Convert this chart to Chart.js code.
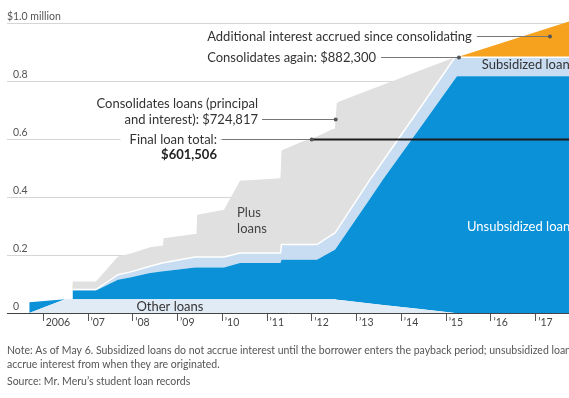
<!DOCTYPE html>
<html><head><meta charset="utf-8">
<script src="https://cdn.jsdelivr.net/npm/chart.js@4.4.1/dist/chart.umd.min.js"></script>
<style>html,body{margin:0;padding:0;background:#fff;}canvas{display:block;}</style>
</head><body>
<canvas id="c" width="569" height="398"></canvas>
<script>
// ---- data (values in $ millions, dates in decimal years) ----
const dates = [2005.687, 2006.485, 2006.648, 2006.659, 2007.177, 2007.669, 2007.937, 2008.384, 2008.674, 2008.688,
  2009.389, 2009.423, 2009.438, 2010.037, 2010.395, 2011.299, 2011.322, 2011.735, 2011.958, 2012.115,
  2012.443, 2012.517, 2012.557, 2012.629, 2013.299, 2013.589, 2014.416, 2015.198, 2015.243, 2017.745];
const otherLoans = [0, .047, .047, .047, .047, .047, .047, .047, .047, .047,
  .047, .047, .047, .047, .047, .047, .047, .047, .047, .047,
  .047, .047, .046, .045, .033, .028, .014, 0, 0, 0];
const unsubsidizedLoans = [.037, 0, 0, .031, .031, .068, .075, .091, .097, .097,
  .110, .110, .110, .110, .125, .125, .137, .137, .137, .137,
  .165, .171, .181, .198, .361, .432, .624, .807, .816, .816];
const subsidizedLoans = [0, 0, 0, .003, .003, .017, .019, .023, .029, .029,
  .036, .036, .036, .036, .035, .035, .052, .052, .052, .052,
  .057, .058, .058, .059, .066, .064, .069, .075, .066, .066];
const plusLoans = [0, 0, 0, .028, .028, .063, .063, .066, .060, .085,
  .079, .079, .146, .163, .249, .258, .324, .352, .365, .373,
  .364, .360, .439, .428, .310, .263, .129, 0, 0, 0];
const addedInterest = [0, 0, 0, 0, 0, 0, 0, 0, 0, 0,
  0, 0, 0, 0, 0, 0, 0, 0, 0, 0,
  0, 0, 0, 0, 0, 0, 0, 0, 0, .123];

const yTicks = [0, 0.2, 0.4, 0.6, 0.8, 1.0];
const yTickLabels = ['0', '0.2', '0.4', '0.6', '0.8', '$1.0 million'];
const xTicks = [2006, 2007, 2008, 2009, 2010, 2011, 2012, 2013, 2014, 2015, 2016, 2017];
const xTickLabels = ['2006', '\u201907', '\u201908', '\u201909', '\u201910', '\u201911', '\u201912', '\u201913', '\u201914', '\u201915', '\u201916', '\u201917'];

// annotation anchors
const finalTotal = 0.601506, finalDate = 2011.996;
const firstConsol = 0.670, firstConsolDate = 2012.533;
const secondConsol = 0.8823, secondConsolDate = 2015.287;
const interestMark = 0.956, interestDate = 2017.32;

const xMin = 2005.19, xMax = 2017.745;
const FONT = 'Lato, "Open Sans", sans-serif';

function pts(arr) { return dates.map((d, i) => ({x: d, y: arr[i]})); }

const annot = {
  id: 'annot',
  afterDraw(chart) {
    const {ctx, scales: {x, y}} = chart;
    const X = v => x.getPixelForValue(v), Y = v => y.getPixelForValue(v);
    ctx.save();
    // y tick labels (with hanging $)
    ctx.font = '10.5px ' + FONT; ctx.fillStyle = '#555'; ctx.textBaseline = 'alphabetic';
    yTicks.forEach((v, i) => {
      const py = Y(v) - 3;
      const lab = yTickLabels[i];
      if (lab[0] === '$') {
        ctx.textAlign = 'right'; ctx.fillText('$', 13, py);
        ctx.textAlign = 'left'; ctx.fillText(lab.slice(1), 13, py);
      } else { ctx.textAlign = 'left'; ctx.fillText(lab, 13, py); }
    });
    const line = (x1, y1, x2, y2, c, w) => { ctx.strokeStyle = c; ctx.lineWidth = w; ctx.beginPath(); ctx.moveTo(x1, y1); ctx.lineTo(x2, y2); ctx.stroke(); };
    const dot = (px, py) => { ctx.fillStyle = '#555'; ctx.beginPath(); ctx.arc(px, py, 2, 0, Math.PI * 2); ctx.fill(); };
    ctx.textBaseline = 'middle';
    ctx.font = '13px ' + FONT;

    // Final loan total
    const fy = Math.round(Y(finalTotal)) + 0.5;
    const fRight = X(2009.88);
    ctx.textAlign = 'right';
    const fw = ctx.measureText('Final loan total:').width;
    ctx.fillStyle = '#fff'; ctx.fillRect(fRight - fw - 9, fy - 7, fw + 12, 14);
    ctx.fillStyle = '#333'; ctx.fillText('Final loan total:', fRight, fy);
    ctx.font = 'bold 13px ' + FONT; ctx.fillStyle = '#222';
    ctx.fillText('$601,506', fRight, fy + 15);
    ctx.font = '13px ' + FONT;
    line(fRight + 5, fy, X(finalDate), fy, '#777', 1);
    line(X(finalDate), fy, chart.chartArea.right, fy, '#1c1c1c', 2);
    dot(X(finalDate), fy);

    // Consolidates loans
    const cy = Math.round(Y(firstConsol)) + 0.5;
    const cRight = X(2010.797);
    ctx.fillStyle = '#333'; ctx.textAlign = 'right';
    ctx.fillText('Consolidates loans (principal', cRight, cy - 16);
    ctx.fillText('and interest): $724,817', cRight, cy);
    line(cRight + 4, cy, X(firstConsolDate), cy, '#777', 1);
    dot(X(firstConsolDate), cy);

    // Consolidates again
    const ay = Math.round(Y(secondConsol)) + 0.5;
    const left = X(2009.662);
    ctx.fillStyle = '#333'; ctx.textAlign = 'left';
    ctx.fillText('Consolidates again: $882,300', left, ay);
    let w = ctx.measureText('Consolidates again: $882,300').width;
    line(left + w + 5, ay, X(secondConsolDate), ay, '#777', 1);
    dot(X(secondConsolDate), ay);

    // Additional interest
    const iy = Math.round(Y(interestMark)) + 0.5;
    ctx.fillStyle = '#333';
    ctx.fillText('Additional interest accrued since consolidating', left, iy);
    w = ctx.measureText('Additional interest accrued since consolidating').width;
    line(left + w + 5, iy, X(interestDate), iy, '#777', 1);
    dot(X(interestDate), iy);

    // area labels
    ctx.fillStyle = '#444'; ctx.textAlign = 'left';
    ctx.fillText('Plus', X(2010.33), 212.5);
    ctx.fillText('loans', X(2010.33), 228.5);
    ctx.fillStyle = '#333'; ctx.textAlign = 'center';
    ctx.fillText('Other loans', X(2008.83), 306.5);
    ctx.textAlign = 'left';
    ctx.fillStyle = '#fff';
    ctx.fillText('Unsubsidized loans', X(2015.465), 226.5);
    ctx.fillStyle = '#333';
    ctx.fillText('Subsidized loans', X(2015.795), 65);

    // notes
    ctx.font = '10.5px ' + FONT; ctx.fillStyle = '#555';
    ctx.fillText('Note: As of May 6. Subsidized loans do not accrue interest until the borrower enters the payback period; unsubsidized loans', 7, 350.5);
    ctx.fillText('accrue interest from when they are originated.', 7, 364.5);
    ctx.fillText('Source: Mr. Meru\u2019s student loan records', 7, 382);
    ctx.restore();
  }
};

const base = {pointRadius: 0, pointHoverRadius: 0, borderWidth: 0, tension: 0, stack: 'loans'};
new Chart(document.getElementById('c'), {
  type: 'line',
  data: {
    datasets: [
      Object.assign({}, base, {label: 'Other loans', data: pts(otherLoans), backgroundColor: '#e1ebf6', borderColor: '#e1ebf6', fill: 'origin'}),
      Object.assign({}, base, {label: 'Unsubsidized loans', data: pts(unsubsidizedLoans), backgroundColor: '#0b91d7', borderColor: '#0b91d7', fill: '-1'}),
      Object.assign({}, base, {label: 'Subsidized loans', data: pts(subsidizedLoans), backgroundColor: '#c8ddf2', borderColor: '#ffffff', borderWidth: 1.5, fill: '-1'}),
      Object.assign({}, base, {label: 'Plus loans', data: pts(plusLoans), backgroundColor: '#e0e0e0', borderColor: '#e0e0e0', fill: '-1'}),
      Object.assign({}, base, {label: 'Additional interest', data: pts(addedInterest), backgroundColor: '#f6a21f', borderColor: '#f6a21f', fill: '-1'})
    ]
  },
  options: {
    responsive: false, animation: false, devicePixelRatio: 1,
    layout: {padding: 0},
    plugins: {legend: {display: false}, tooltip: {enabled: false}},
    scales: {
      x: {
        type: 'linear', min: xMin, max: xMax, z: 2,
        afterBuildTicks: s => { s.ticks = xTicks.map(v => ({value: v})); },
        afterFit: s => { s.height = 85; },
        grid: {drawOnChartArea: false, drawTicks: true, tickLength: 8, color: '#555', lineWidth: 1},
        border: {display: true, color: '#444', width: 1},
        ticks: {align: 'start', padding: -5, labelOffset: 2.5, color: '#444', font: {family: FONT, size: 10.5}, maxRotation: 0, autoSkip: false,
          callback: (v, i) => xTickLabels[i]}
      },
      y: {
        type: 'linear', stacked: true, min: 0, max: 313 / 290, z: 1,
        afterBuildTicks: s => { s.ticks = yTicks.map(v => ({value: v})); },
        afterFit: s => { s.width = 7; },
        grid: {color: 'rgba(185,185,185,0.6)', lineWidth: 1, drawTicks: false},
        border: {display: false},
        ticks: {display: false}
      }
    }
  },
  plugins: [annot]
});
</script>
</body></html>
